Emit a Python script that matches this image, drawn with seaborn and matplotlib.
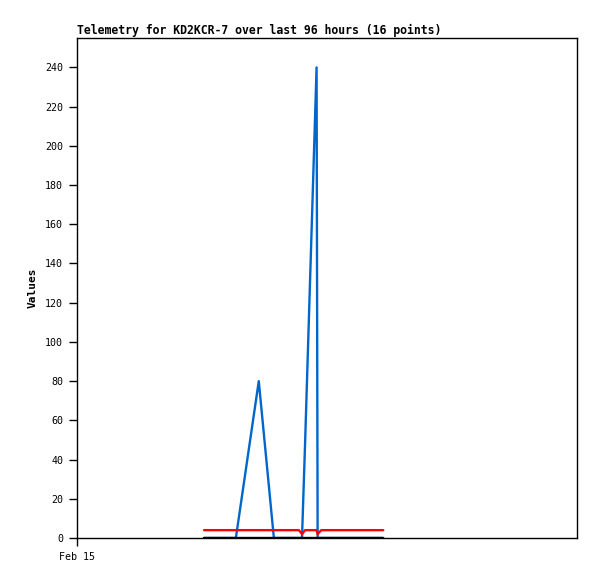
import pandas as pd
import numpy as np
import matplotlib.pyplot as plt
import seaborn as sns

# telemetry samples, hours after Feb 15 00:00
hours = [24.4, 27.5, 30.5, 34.9, 37.8, 40.9, 42.6, 43.2, 43.8,
         46.0, 46.2, 46.9, 50.5, 53.4, 56.3, 58.8]
ch_blue = [0, 0, 0, 80, 0, 0, 0, 0, 49, 240, 0, 0, 0, 0, 0, 0]
ch_red = [4, 4, 4, 4, 4, 4, 4, 2, 4, 4, 2, 4, 4, 4, 4, 4]
ch_black = [0] * 16

tick_pos = [0]
tick_labels = ["Feb 15"]

df = pd.concat([
    pd.DataFrame({"hour": hours, "value": ch_blue, "channel": "A1"}),
    pd.DataFrame({"hour": hours, "value": ch_red, "channel": "A2"}),
    pd.DataFrame({"hour": hours, "value": ch_black, "channel": "A3"}),
])

sns.set_theme(style="white")
plt.rcParams["font.family"] = ["DejaVu Sans Mono"]
plt.rcParams["text.color"] = "black"
plt.rcParams["xtick.color"] = "black"
plt.rcParams["ytick.color"] = "black"
plt.rcParams["axes.labelcolor"] = "black"

fig = plt.figure(figsize=(5.97, 5.79), dpi=100)
ax = fig.add_axes([77 / 597, 1 - 538 / 579, 500 / 597, 500 / 579])

sns.lineplot(data=df, x="hour", y="value", hue="channel",
             palette={"A1": "#0066CC", "A2": "#FF0000", "A3": "#000000"},
             linewidth=1.7, legend=False, ax=ax)

ax.set_xlim(0, 96)
ax.set_ylim(0, 255)
ax.set_yticks(range(0, 241, 20))
ax.set_xticks(tick_pos)
ax.set_xticklabels(tick_labels)
ax.tick_params(axis="both", direction="out", length=6, width=1, color="black",
               labelsize=7.2, bottom=True, left=True, pad=4)
ax.set_xlabel("")
ax.set_ylabel("Values", fontsize=8, fontweight="bold", labelpad=5)
ax.set_title("Telemetry for KD2KCR-7 over last 96 hours (16 points)",
             loc="left", fontsize=8.3, fontweight="bold", pad=3)
for s in ax.spines.values():
    s.set_color("black")
    s.set_linewidth(1)

plt.savefig("out.png", dpi=100)
